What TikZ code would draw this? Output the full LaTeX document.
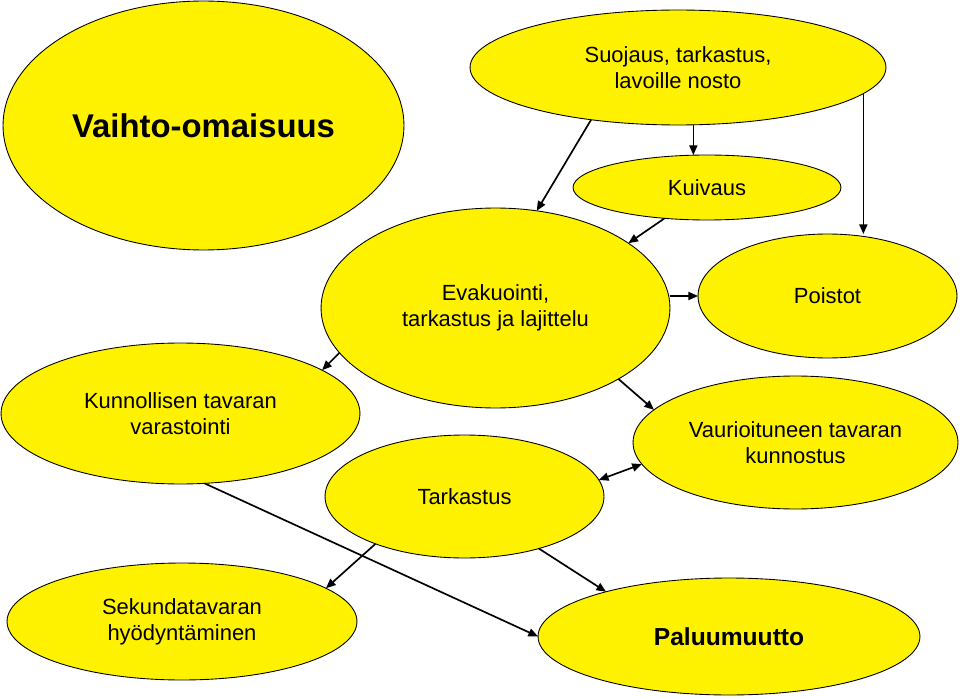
\documentclass[tikz,border=0pt]{standalone}
\usepackage{fontspec}
\setmainfont{Liberation Sans}
\usepackage{tikz}
\usetikzlibrary{arrows.meta, shapes.geometric}

\begin{document}
\begin{tikzpicture}[
      x=0.02cm, y=-0.02cm,
      blob/.style={ellipse, draw=black, line width=0.5pt, fill=yellow, inner sep=0pt, outer sep=0pt,
        align=center, font=\fontsize{12.5}{14.8}\selectfont},
      bigtext/.style={font=\fontsize{18.7}{22}\selectfont\bfseries},
      arr/.style={-{Triangle[length=5.5pt,width=4.6pt]}, line width=0.95pt},
      darr/.style={{Triangle[length=5.5pt,width=4.6pt]}-{Triangle[length=5.5pt,width=4.6pt]}, line width=0.95pt}
    ]
      \useasboundingbox (0,0) rectangle (960,699);
      \node[blob, bigtext, minimum width=8.02cm, minimum height=4.98cm] (vai) at (203.5,125.5) {Vaihto-omaisuus};
      \node[blob, minimum width=8.32cm, minimum height=2.3cm] (suo) at (678,67.5) {Suojaus, tarkastus,\\lavoille nosto};
      \node[blob, minimum width=5.36cm, minimum height=1.3cm] (kui) at (707,187.5) {Kuivaus};
      \node[blob, minimum width=6.98cm, minimum height=4cm] (eva) at (495.5,308) {Evakuointi,\\tarkastus ja lajittelu};
      \node[blob, minimum width=5.18cm, minimum height=2.48cm] (poi) at (827.5,296) {Poistot};
      \node[blob, minimum width=7.18cm, minimum height=2.82cm] (kun) at (180.5,413.5) {Kunnollisen tavaran\\varastointi};
      \node[blob, minimum width=6.5cm, minimum height=2.66cm] (vau) at (795.5,442.5) {Vaurioituneen tavaran\\kunnostus};
      \node[blob, minimum width=5.58cm, minimum height=2.46cm] (tar) at (464.5,496.5) {Tarkastus};
      \node[blob, minimum width=7cm, minimum height=2.34cm] (sek) at (182,621.5) {Sekundatavaran\\hyödyntäminen};
      \node[blob, minimum width=7.64cm, minimum height=2.34cm, font=\fontsize{14}{16}\selectfont\bfseries] (pal) at (729,636.5) {Paluumuutto};

      \draw[arr] (suo.211) -- (eva.67);
      \draw[arr] (suo.285) -- (suo.285 |- kui.north);
      \draw[arr] (suo.352) -- (suo.352 |- poi.north);
      \draw[arr] (kui.216) -- (eva.26);
      \draw[arr] (poi.west -| eva.east) -- (poi.west);
      \draw[arr] (eva.196) -- (kun.17);
      \draw[arr] (eva.330) -- (vau.167);
      \draw[darr] (tar.7) -- (vau.188);
      \draw[arr] (kun.289) -- (pal.west);
      \draw[arr] (tar.208) -- (sek.13);
      \draw[arr] (tar.325) -- (pal.160);
    \end{tikzpicture}
\end{document}
